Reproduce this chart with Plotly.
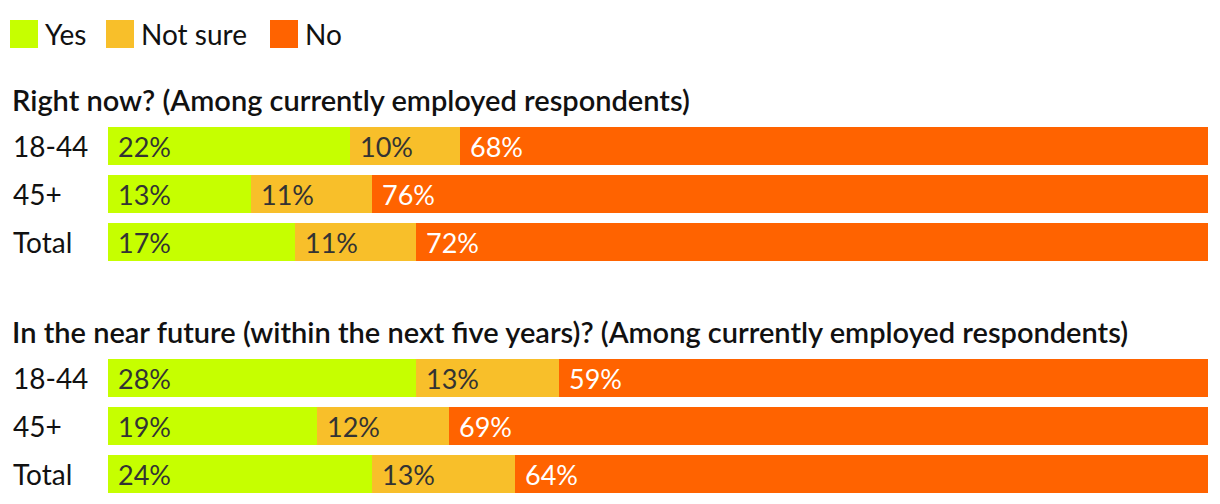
import plotly.graph_objects as go

groups = ["18-44", "45+", "Total"]
titles = ["Right now? (Among currently employed respondents)",
          "In the near future (within the next five years)? (Among currently employed respondents)"]
yes_now = [22, 13, 17]
notsure_now = [10, 11, 11]
no_now = [68, 76, 72]
yes_future = [28, 19, 24]
notsure_future = [13, 12, 13]
no_future = [59, 69, 64]
series_names = ["Yes", "Not sure", "No"]

colors = ["#c6ff00", "#f8bf2a", "#ff6300"]
text_colors = ["#333333", "#333333", "#ffffff"]
FONT = "Lato"
OFF = 8                      # page body margin of the browser
W, H = 1220 - OFF, 504 - OFF


def px(x):
    return (x - OFF) / W


def py(y):
    return 1 - (y - OFF) / H


fig = go.Figure()
annotations = []
sections = [([yes_now, notsure_now, no_now], "y"),
            ([yes_future, notsure_future, no_future], "y2")]
for vals, yax in sections:
    base = [0] * len(groups)
    for i, (name, v) in enumerate(zip(series_names, vals)):
        fig.add_trace(go.Bar(
            y=groups, x=v, base=base, orientation="h", name=name,
            marker=dict(color=colors[i], line=dict(width=0)),
            xaxis="x", yaxis=yax, showlegend=False, hoverinfo="skip"))
        for g, b, val in zip(groups, base, v):
            annotations.append(dict(
                x=b, y=g, xref="x", yref=yax, text=f"{val}%", showarrow=False,
                xanchor="left", yanchor="middle", xshift=8,
                font=dict(family=FONT, size=27, color=text_colors[i], weight=400)))
        base = [a + c for a, c in zip(base, v)]
    for g in groups:
        annotations.append(dict(
            x=px(11), y=g, xref="paper", yref=yax, text=g, showarrow=False,
            xanchor="left", yanchor="middle",
            font=dict(family=FONT, size=28, color="#111111", weight=400)))

# section titles
for t, ypix in zip(titles, [99, 331]):
    annotations.append(dict(
        x=px(10), y=py(ypix), xref="paper", yref="paper", text=t,
        showarrow=False, xanchor="left", yanchor="middle",
        font=dict(family=FONT, size=29, color="#111111", weight=600)))

# legend
shapes = []
leg_x = [10, 106, 270]
for name, c, lx in zip(series_names, colors, leg_x):
    shapes.append(dict(type="rect", xref="paper", yref="paper",
                       x0=px(lx), x1=px(lx + 28), y0=py(48), y1=py(20),
                       fillcolor=c, line=dict(width=0)))
    annotations.append(dict(
        x=px(lx + 33), y=py(34), xref="paper", yref="paper", text=name,
        showarrow=False, xanchor="left", yanchor="middle",
        font=dict(family=FONT, size=28, color="#111111", weight=400)))

fig.update_layout(
    width=W, height=H, margin=dict(l=0, r=0, t=0, b=0),
    paper_bgcolor="white", plot_bgcolor="white",
    barmode="stack", bargap=0.2,
    showlegend=False,
    xaxis=dict(domain=[px(108), px(1208)], range=[0, 100], visible=False,
               fixedrange=True),
    yaxis=dict(domain=[py(266), py(122)], autorange="reversed",
               visible=False, anchor="x", type="category"),
    yaxis2=dict(domain=[py(498), py(354)], autorange="reversed",
                visible=False, anchor="x", type="category"),
    annotations=annotations, shapes=shapes,
)
fig.write_html("out.html")
